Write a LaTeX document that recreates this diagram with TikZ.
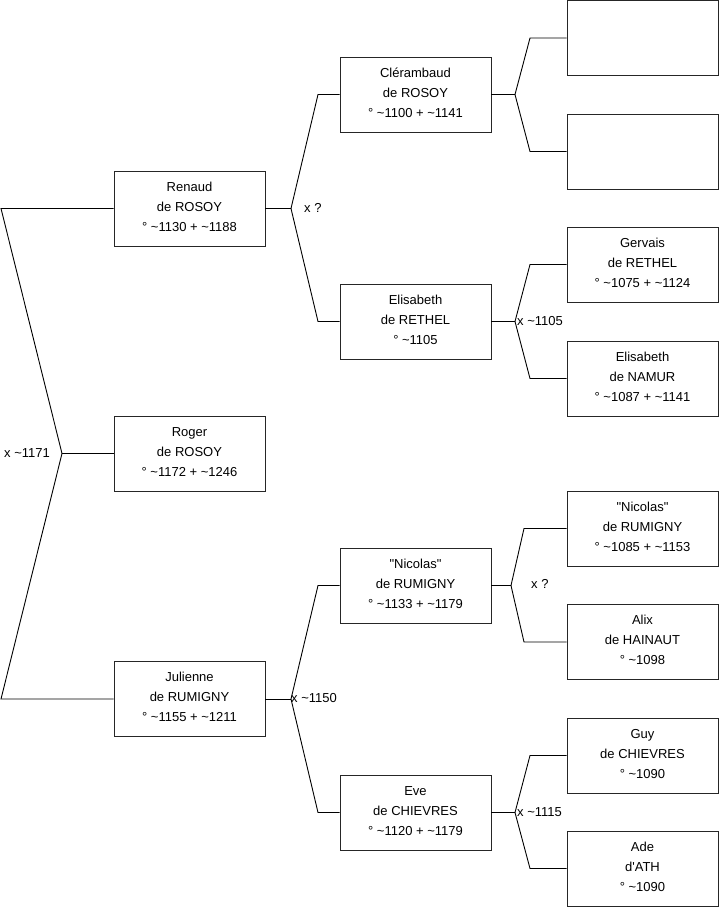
\documentclass[tikz,border=0pt]{standalone}
\usepackage{fontspec}
\newfontfamily\arialf{Liberation Sans}
\begin{document}
\begin{tikzpicture}[x=1pt,y=-1pt,
  pbox/.style={draw=black!85, line width=0.9pt, minimum width=151pt, minimum height=75pt,
    inner sep=0pt, text depth=3.5pt, align=center, font=\arialf\fontsize{13}{20}\selectfont},
  lbl/.style={anchor=west, inner sep=0pt, font=\arialf\fontsize{13}{15}\selectfont},
  conn/.style={draw=black, line width=0.9pt}]
\useasboundingbox (0,0) rectangle (719,908);
% level 1
\node[pbox] (ren) at (189.5,208.5) {Renaud\\de ROSOY\\° \textasciitilde1130 + \textasciitilde1188};
\node[pbox] (rog) at (189.5,453.5) {Roger\\de ROSOY\\° \textasciitilde1172 + \textasciitilde1246};
\node[pbox] (jul) at (189.5,699) {Julienne\\de RUMIGNY\\° \textasciitilde1155 + \textasciitilde1211};
% level 2
\node[pbox] (cle) at (415.5,94.5) {Clérambaud\\de ROSOY\\° \textasciitilde1100 + \textasciitilde1141};
\node[pbox] (elr) at (415.5,321.5) {Elisabeth\\de RETHEL\\° \textasciitilde1105};
\node[pbox] (nim) at (415.5,585.5) {"Nicolas"\\de RUMIGNY\\° \textasciitilde1133 + \textasciitilde1179};
\node[pbox] (eve) at (415.5,812.5) {Eve\\de CHIEVRES\\° \textasciitilde1120 + \textasciitilde1179};
% level 3
\node[pbox] (ra) at (642.5,38) {};
\node[pbox] (rb) at (642.5,151.5) {};
\node[pbox] (ger) at (642.5,264.5) {Gervais\\de RETHEL\\° \textasciitilde1075 + \textasciitilde1124};
\node[pbox] (eln) at (642.5,378.5) {Elisabeth\\de NAMUR\\° \textasciitilde1087 + \textasciitilde1141};
\node[pbox] (nir) at (642.5,528.5) {"Nicolas"\\de RUMIGNY\\° \textasciitilde1085 + \textasciitilde1153};
\node[pbox] (ali) at (642.5,642) {Alix\\de HAINAUT\\° \textasciitilde1098};
\node[pbox] (guy) at (642.5,755.5) {Guy\\de CHIEVRES\\° \textasciitilde1090};
\node[pbox] (ade) at (642.5,868.5) {Ade\\d'ATH\\° \textasciitilde1090};
% junction coordinates
\coordinate (a1) at (1,208.5);
\coordinate (j1) at (62,453.5);
\coordinate (a2) at (1,699);
\coordinate (j2) at (291,208.5);
\coordinate (c2a) at (318,94.5);
\coordinate (c2b) at (318,321.5);
\coordinate (j3) at (291,699);
\coordinate (c3a) at (318,585.5);
\coordinate (c3b) at (318,812.5);
\coordinate (j4) at (515,94.5);
\coordinate (c4a) at (530,38);
\coordinate (c4b) at (530,151.5);
\coordinate (j5) at (515,321.5);
\coordinate (c5a) at (530,264.5);
\coordinate (c5b) at (530,378.5);
\coordinate (j6) at (511,585.5);
\coordinate (c6a) at (524,528.5);
\coordinate (c6b) at (524,642);
\coordinate (j7) at (515,812.5);
\coordinate (c7a) at (530,755.5);
\coordinate (c7b) at (530,868.5);
% connectors
\draw[conn] (ren.west) -- (a1) -- (j1) -- (a2) -- (jul.west);
\draw[conn] (j1) -- (rog.west);
\draw[conn] (ren.east) -- (j2);
\draw[conn] (cle.west) -- (c2a) -- (j2) -- (c2b) -- (elr.west);
\draw[conn] (jul.east) -- (j3);
\draw[conn] (nim.west) -- (c3a) -- (j3) -- (c3b) -- (eve.west);
\draw[conn] (cle.east) -- (j4);
\draw[conn] (ra.west) -- (c4a) -- (j4) -- (c4b) -- (rb.west);
\draw[conn] (elr.east) -- (j5);
\draw[conn] (ger.west) -- (c5a) -- (j5) -- (c5b) -- (eln.west);
\draw[conn] (nim.east) -- (j6);
\draw[conn] (nir.west) -- (c6a) -- (j6) -- (c6b) -- (ali.west);
\draw[conn] (eve.east) -- (j7);
\draw[conn] (guy.west) -- (c7a) -- (j7) -- (c7b) -- (ade.west);
% labels
\node[lbl] (l1) at (4,453) {x \textasciitilde1171};
\node[lbl] (l2) at (304,207.5) {x ?};
\node[lbl] (l3) at (291,698) {x \textasciitilde1150};
\node[lbl] (l4) at (517,321) {x \textasciitilde1105};
\node[lbl] (l5) at (531,583.5) {x ?};
\node[lbl] (l6) at (517,812) {x \textasciitilde1115};
\end{tikzpicture}
\end{document}
